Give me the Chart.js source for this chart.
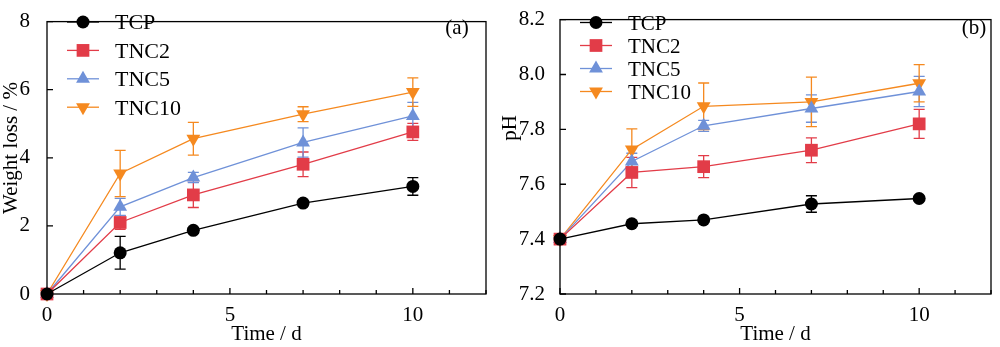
<!DOCTYPE html>
<html><head><meta charset="utf-8">
<script src="https://cdn.jsdelivr.net/npm/chart.js@4.4.0/dist/chart.umd.min.js"></script>
<style>
html,body{margin:0;padding:0;background:#fff;}
#wrap{position:relative;width:1000px;height:347px;overflow:hidden;}
canvas{position:absolute;top:0;}
</style></head><body>
<div id="wrap">
<canvas id="ca" width="500" height="347" style="left:0"></canvas>
<canvas id="cb" width="500" height="347" style="left:500px"></canvas>
</div>
<script>
// ---- data ----
const days = [0, 2, 4, 7, 10];
const seriesNames = ['TCP', 'TNC2', 'TNC5', 'TNC10'];

// (a) weight loss (%)
const wlTCP   = [0, 1.21, 1.87, 2.67, 3.16];
const wlTNC2  = [0, 2.10, 2.91, 3.81, 4.76];
const wlTNC5  = [0, 2.56, 3.42, 4.45, 5.23];
const wlTNC10 = [0, 3.54, 4.56, 5.28, 5.93];
const wlErrTCP   = [0, 0.48, 0.08, 0.08, 0.26];
const wlErrTNC2  = [0, 0.20, 0.37, 0.36, 0.25];
const wlErrTNC5  = [0, 0.25, 0.15, 0.43, 0.40];
const wlErrTNC10 = [0, 0.68, 0.48, 0.22, 0.42];

// (b) pH
const phTCP   = [7.40, 7.456, 7.470, 7.528, 7.548];
const phTNC2  = [7.40, 7.643, 7.664, 7.724, 7.820];
const phTNC5  = [7.40, 7.683, 7.813, 7.876, 7.938];
const phTNC10 = [7.40, 7.727, 7.884, 7.900, 7.968];
const phErrTCP   = [0, 0.008, 0.008, 0.03, 0.008];
const phErrTNC2  = [0, 0.055, 0.040, 0.045, 0.053];
const phErrTNC5  = [0, 0.030, 0.020, 0.050, 0.055];
const phErrTNC10 = [0, 0.075, 0.085, 0.090, 0.068];

const xTickLabels = [0, 5, 10];
const yTicksA = [0, 2, 4, 6, 8];
const yTicksB = [7.2, 7.4, 7.6, 7.8, 8.0, 8.2];

// ---- styles ----
const colors = ['#000000', '#E23C48', '#6F91D8', '#F5891F'];
const styles = [
  {pointStyle: 'circle', radius: 6.5, rotation: 0},
  {pointStyle: 'rect', radius: 9, rotation: 0},
  {pointStyle: 'triangle', radius: 8, rotation: 0},
  {pointStyle: 'triangle', radius: 8, rotation: 180}
];
const FONT = "'Liberation Serif', 'Times New Roman', serif";

function makeDatasets(vals, errs) {
  return vals.map((v, i) => ({
    label: seriesNames[i],
    data: days.map((d, k) => ({x: d, y: v[k]})),
    errors: errs[i],
    borderColor: colors[i],
    backgroundColor: colors[i],
    borderWidth: 1.3,
    pointStyle: styles[i].pointStyle,
    pointRadius: styles[i].radius,
    pointHoverRadius: styles[i].radius,
    pointRotation: styles[i].rotation,
    pointBorderWidth: 0,
    tension: 0,
    clip: false
  }));
}

function drawMarker(ctx, style, x, y, color) {
  const o = {pointStyle: style.pointStyle, radius: style.radius, rotation: style.rotation, borderWidth: 0};
  ctx.fillStyle = color; ctx.strokeStyle = color;
  if (Chart.helpers && Chart.helpers.drawPoint) {
    ctx.lineWidth = 0.001;
    Chart.helpers.drawPoint(ctx, o, x, y);
    return;
  }
  ctx.beginPath();
  ctx.arc(x, y, style.radius, 0, Math.PI * 2);
  ctx.fill();
}

const errorBarPlugin = {
  id: 'errorBars',
  beforeDatasetsDraw(chart) {
    const ctx = chart.ctx;
    const xs = chart.scales.x, ys = chart.scales.y;
    ctx.save();
    chart.data.datasets.forEach((ds) => {
      ctx.strokeStyle = ds.borderColor;
      ctx.lineWidth = 1.3;
      ds.data.forEach((p, k) => {
        const e = ds.errors[k];
        if (!e) return;
        const px = xs.getPixelForValue(p.x);
        const top = ys.getPixelForValue(p.y + e);
        const bot = ys.getPixelForValue(p.y - e);
        const cw = 5.5;
        ctx.beginPath();
        ctx.moveTo(px, top); ctx.lineTo(px, bot);
        ctx.moveTo(px - cw, top); ctx.lineTo(px + cw, top);
        ctx.moveTo(px - cw, bot); ctx.lineTo(px + cw, bot);
        ctx.stroke();
      });
    });
    ctx.restore();
  }
};

const framePlugin = {
  id: 'frame',
  afterDraw(chart) {
    const ctx = chart.ctx, a = chart.chartArea;
    const xs = chart.scales.x, ys = chart.scales.y;
    const opt = chart.options.plugins.frame;
    ctx.save();
    ctx.strokeStyle = '#000';
    ctx.lineWidth = 1.3;
    ctx.strokeRect(a.left, a.top, a.right - a.left, a.bottom - a.top);
    ctx.beginPath();
    for (let t = xs.min; t <= xs.max; t += 1) {
      const px = xs.getPixelForValue(t);
      const len = (t % 5 === 0) ? 6 : 4;
      ctx.moveTo(px, a.bottom); ctx.lineTo(px, a.bottom - len);
    }
    opt.yTicks.forEach(v => {
      const py = ys.getPixelForValue(v);
      ctx.moveTo(a.left, py); ctx.lineTo(a.left + 6, py);
    });
    ctx.stroke();
    // y title
    ctx.save();
    ctx.translate(opt.yTitleX, opt.yTitleY);
    ctx.rotate(-Math.PI / 2);
    ctx.font = '21px ' + FONT;
    ctx.fillStyle = '#000';
    ctx.textAlign = 'center';
    ctx.textBaseline = 'middle';
    ctx.fillText(opt.yTitle, 0, 0);
    ctx.restore();
    // legend
    const L = opt.legend;
    ctx.font = L.fontSize + 'px ' + FONT;
    ctx.textBaseline = 'alphabetic';
    ctx.textAlign = 'left';
    chart.data.datasets.forEach((ds, i) => {
      const y = L.y0 + i * L.dy;
      ctx.strokeStyle = ds.borderColor;
      ctx.lineWidth = 1.3;
      ctx.beginPath();
      ctx.moveTo(a.left + 20, y); ctx.lineTo(a.left + 52, y);
      ctx.stroke();
      drawMarker(ctx, styles[i], a.left + 36, y, ds.borderColor);
      ctx.fillStyle = '#000';
      ctx.fillText(ds.label, a.left + L.textX, y + L.fontSize * 0.34);
    });
    // panel label
    ctx.font = '21px ' + FONT;
    ctx.textAlign = 'center';
    ctx.textBaseline = 'middle';
    ctx.fillStyle = '#000';
    ctx.fillText(opt.panel, opt.panelX, 28);
    ctx.restore();
  }
};

function makeChart(id, datasets, cfg) {
  return new Chart(document.getElementById(id), {
    type: 'line',
    data: {datasets},
    plugins: [errorBarPlugin, framePlugin],
    options: {
      responsive: false,
      animation: false,
      devicePixelRatio: 1,
      layout: {padding: {top: 5, right: cfg.padRight, left: 0, bottom: 0}},
      plugins: {
        legend: {display: false},
        tooltip: {enabled: false},
        frame: {yTicks: cfg.yTicks, legend: cfg.legend, panel: cfg.panel, panelX: cfg.panelX,
                yTitle: cfg.yTitle, yTitleX: cfg.yTitleX, yTitleY: cfg.yTitleY}
      },
      scales: {
        x: {
          type: 'linear', min: 0, max: 12,
          grid: {display: false},
          border: {display: false},
          afterBuildTicks: (s) => { s.ticks = xTickLabels.map(v => ({value: v})); },
          ticks: {color: '#000', font: {family: FONT, size: 21}, padding: 1, maxRotation: 0},
          title: {display: true, text: 'Time / d', color: '#000', font: {family: FONT, size: 21, lineHeight: 1}, padding: {top: 0, bottom: 2}},
          afterFit: (s) => { s.height = 53; }
        },
        y: {
          type: 'linear', min: cfg.yMin, max: cfg.yMax,
          grid: {display: false},
          border: {display: false},
          afterBuildTicks: (s) => { s.ticks = cfg.yTicks.map(v => ({value: v})); },
          ticks: {color: '#000', font: {family: FONT, size: 21}, padding: cfg.yPad,
                  callback: cfg.yFmt},
          title: {display: false},
          afterFit: (s) => { s.width = cfg.yWidth; }
        }
      }
    }
  });
}

makeChart('ca',
  makeDatasets([wlTCP, wlTNC2, wlTNC5, wlTNC10], [wlErrTCP, wlErrTNC2, wlErrTNC5, wlErrTNC10]),
  {padRight: 14, yMin: 0, yMax: 8, yTicks: yTicksA, yPad: 9, yWidth: 47,
   yFmt: (v) => String(v), yTitle: 'Weight loss / %', yTitleX: 11, yTitleY: 148,
   legend: {y0: 22, dy: 28.4, fontSize: 22, textX: 68}, panel: '(a)', panelX: 457});

makeChart('cb',
  makeDatasets([phTCP, phTNC2, phTNC5, phTNC10], [phErrTCP, phErrTNC2, phErrTNC5, phErrTNC10]),
  {padRight: 1, yMin: 7.2, yMax: 8.2, yTicks: yTicksB, yPad: 7, yWidth: 60,
   yFmt: (v) => Number(v).toFixed(1), yTitle: 'pH', yTitleX: 10, yTitleY: 128,
   legend: {y0: 22.5, dy: 23, fontSize: 21, textX: 68}, panel: '(b)', panelX: 474});
</script>
</body></html>
